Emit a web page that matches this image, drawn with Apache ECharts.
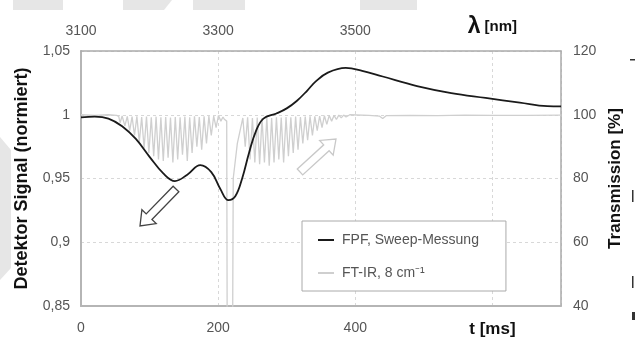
<!DOCTYPE html>
<html>
<head>
<meta charset="utf-8">
<script src="https://cdn.jsdelivr.net/npm/echarts@6/dist/echarts.min.js"></script>
<style>
html,body{margin:0;padding:0;background:#fff;}
#c{width:635px;height:338px;}
</style>
</head>
<body>
<div id="c"></div>
<script>
// ---- data ----
const seriesNames = ['FPF, Sweep-Messung', 'FT-IR, 8 cm\u207B\u00B9'];

const fpfT = [0, 20, 40, 60, 80, 100, 120, 137, 155, 174, 190, 203, 215, 225, 235, 245, 255, 266, 285, 300, 315, 330, 342, 360, 386, 410, 440, 490, 540, 590, 640, 680, 700];
const fpfV = [0.998, 0.9985, 0.997, 0.991, 0.981, 0.967, 0.954, 0.948, 0.953, 0.9605, 0.955, 0.942, 0.933, 0.936, 0.950, 0.970, 0.987, 0.997, 1.001, 1.005, 1.011, 1.019, 1.026, 1.033, 1.0367, 1.0345, 1.030, 1.0225, 1.017, 1.0132, 1.0095, 1.0067, 1.0065];

const ftirT = [0, 20, 40, 52,
  55, 57, 60, 64, 67.5, 71, 74.5, 78, 81.5, 85, 88.5, 92, 95.5, 99, 102.5, 106, 109.5, 113, 116.5, 120, 123.5, 127, 130.5, 134, 137.5, 141, 144.5, 148, 151.5, 155, 158.5, 162, 165.5, 169, 172.5, 176, 179.5, 183, 186.5, 190, 193.5, 197, 200.5, 204, 207, 209, 211,
  212.5, 213.5, 220.5, 222, 228, 236,
  239.5, 243, 246.5, 250, 253.5, 257, 260.5, 264, 267.5, 271, 274.5, 278, 281.5, 285, 288.5, 292, 295.5, 299, 302.5, 306, 309.5, 313, 316.5, 320, 323.5, 327, 330.5, 334, 337.5, 341, 344.5, 348, 351.5, 355, 358.5, 362, 365.5, 369, 372.5, 376, 379.5, 383, 386.5, 392,
  420, 435, 440, 445, 480, 520, 560, 600, 650, 700];
const ftirV = [100, 99.8, 100, 99.8,
  99.5, 97.5, 99.6, 96.5, 99.5, 95, 99.4, 93.5, 99.5, 91.5, 99.3, 89.5, 99.4, 88, 99.2, 87, 99.4, 86, 99.2, 85.5, 99.3, 86.5, 99.1, 85, 99.3, 86, 99.2, 87.5, 99.4, 85.5, 99.2, 88, 99.5, 90, 99.3, 89, 99.5, 91, 99.6, 93.5, 99.6, 96, 99.8, 98, 99.3, 98.6, 99.2,
  98, 0, 0, 80, 91, 99,
  90, 99.2, 86, 99, 85, 99.1, 84.5, 99, 85, 99.2, 84, 99, 85, 99.2, 86, 99.1, 85, 99.3, 87, 99.2, 88, 99.4, 89, 99.3, 91, 99.4, 92, 99.5, 93.5, 99.5, 95, 99.6, 96, 99.7, 97, 99.8, 98, 99.8, 98.5, 99.9, 99, 99.9, 99.3, 100,
  99.8, 99.6, 98.8, 99.7, 99.8, 99.7, 99.9, 99.8, 99.8, 99.9];

const timeTicks = {min: 0, max: 700, interval: 200};
const waveTicks = {min: 3100, max: 3800, interval: 200};
const signalTicks = {min: 0.85, max: 1.05, interval: 0.05};
const transTicks = {min: 40, max: 120, interval: 20};

// ---- chart ----
const FONT = '"Liberation Sans", Arial, sans-serif';
const zip = (a, b) => a.map((v, i) => [v, b[i]]);

function arrowPoints(x1, y1, x2, y2, sw, hw, hl) {
  const dx = x2 - x1, dy = y2 - y1, L = Math.hypot(dx, dy);
  const ux = dx / L, uy = dy / L, px = -uy, py = ux;
  const loc = [[0, -sw], [L - hl, -sw], [L - hl, -hw], [L, 0], [L - hl, hw], [L - hl, sw], [0, sw]];
  return loc.map(([a, b]) => [x1 + ux * a + px * b, y1 + uy * a + py * b]);
}

const chart = echarts.init(document.getElementById('c'), null, {renderer: 'canvas'});
const labelStyle = {fontFamily: FONT, fontSize: 14, color: '#555'};

chart.setOption({
  animation: false,
  backgroundColor: '#fff',
  textStyle: {fontFamily: FONT},
  grid: {left: 81, right: 74, top: 51, bottom: 30, show: false},
  legend: {
    orient: 'vertical',
    left: 302, top: 221,
    padding: [12, 27, 11, 15],
    itemWidth: 16, itemHeight: 14, itemGap: 19,
    backgroundColor: '#fff',
    borderColor: '#aaa', borderWidth: 1,
    itemStyle: {opacity: 0},
    textStyle: {fontFamily: FONT, fontSize: 14, color: '#555', padding: [0, 0, 0, 3]},
    data: [seriesNames[0], seriesNames[1]]
  },
  xAxis: [
    {
      type: 'value', position: 'bottom',
      min: timeTicks.min, max: timeTicks.max, interval: timeTicks.interval,
      axisLine: {show: true, lineStyle: {color: '#b5b5b5', width: 2}},
      axisTick: {show: false},
      axisLabel: Object.assign({}, labelStyle, {
        margin: 15,
        formatter: v => v === 600 ? '{b|t [ms]}' : (v === 700 ? '' : String(v)),
        rich: {b: {fontFamily: FONT, fontSize: 17, fontWeight: 'bold', color: '#111'}}
      }),
      splitLine: {show: true, lineStyle: {color: '#d8d8d8', type: [3, 3], width: 1}}
    },
    {
      type: 'value', position: 'top',
      min: waveTicks.min, max: waveTicks.max, interval: waveTicks.interval,
      axisLine: {show: true, lineStyle: {color: '#aaa', width: 1.5}},
      axisTick: {show: false},
      axisLabel: Object.assign({}, labelStyle, {
        margin: 13,
        formatter: v => v === 3700 ? '{l|\u03BB} {u|[nm]}' : (v === 3800 ? '' : String(v)),
        rich: {
          l: {fontFamily: FONT, fontSize: 23, fontWeight: 'bold', color: '#111'},
          u: {fontFamily: FONT, fontSize: 15, fontWeight: 'bold', color: '#111'}
        }
      }),
      splitLine: {show: false}
    }
  ],
  yAxis: [
    {
      type: 'value', position: 'left',
      min: signalTicks.min, max: signalTicks.max, interval: signalTicks.interval,
      axisLine: {show: true, lineStyle: {color: '#b5b5b5', width: 2}},
      axisTick: {show: false},
      axisLabel: Object.assign({}, labelStyle, {
        margin: 11,
        formatter: v => String(Math.round(v * 100) / 100).replace('.', ',')
      }),
      splitLine: {show: true, lineStyle: {color: '#d8d8d8', type: [3, 3], width: 1}},
      name: 'Detektor Signal (normiert)',
      nameLocation: 'middle', nameGap: 50,
      nameTextStyle: {fontFamily: FONT, fontSize: 18, fontWeight: 'bold', color: '#111'}
    },
    {
      type: 'value', position: 'right',
      min: transTicks.min, max: transTicks.max, interval: transTicks.interval,
      axisLine: {show: true, lineStyle: {color: '#aaa', width: 1.5}},
      axisTick: {show: false},
      axisLabel: Object.assign({}, labelStyle, {margin: 12}),
      splitLine: {show: false},
      name: 'Transmission [%]',
      nameLocation: 'middle', nameGap: 46,
      nameTextStyle: {fontFamily: FONT, fontSize: 17, fontWeight: 'bold', color: '#111'}
    }
  ],
  series: [
    {
      name: seriesNames[1], type: 'line', xAxisIndex: 0, yAxisIndex: 1,
      data: zip(ftirT, ftirV), symbol: 'none', smooth: false,
      lineStyle: {color: '#cfcfcf', width: 1.3}, itemStyle: {color: '#cfcfcf'},
      clip: true, z: 2
    },
    {
      name: seriesNames[0], type: 'line', xAxisIndex: 0, yAxisIndex: 0,
      data: zip(fpfT, fpfV), symbol: 'none', smooth: 0.4,
      lineStyle: {color: '#1a1a1a', width: 1.8}, itemStyle: {color: '#1a1a1a'},
      z: 3
    }
  ],
  graphic: [
    {type: 'rect', shape: {x: 13, y: 0, width: 50, height: 10}, style: {fill: '#e6e6e6'}, silent: true},
    {type: 'polygon', shape: {points: [[123, 0], [172, 0], [164, 10], [123, 10]]}, style: {fill: '#e6e6e6'}, silent: true},
    {type: 'rect', shape: {x: 193, y: 0, width: 52, height: 10}, style: {fill: '#e6e6e6'}, silent: true},
    {type: 'rect', shape: {x: 360, y: 0, width: 57, height: 10}, style: {fill: '#e6e6e6'}, silent: true},
    {type: 'polygon', shape: {points: [[0, 137], [11, 150], [11, 268], [0, 280]]}, style: {fill: '#e6e6e6'}, silent: true},
    {type: 'rect', shape: {x: 630, y: 59, width: 5, height: 1.5}, style: {fill: '#333'}, silent: true},
    {type: 'rect', shape: {x: 632, y: 190, width: 1.5, height: 12}, style: {fill: '#333'}, silent: true},
    {type: 'rect', shape: {x: 632, y: 276, width: 1.5, height: 12}, style: {fill: '#333'}, silent: true},
    {type: 'rect', shape: {x: 632, y: 312, width: 3, height: 8}, style: {fill: '#333'}, silent: true},
    {type: 'polygon', z: 100, shape: {points: arrowPoints(176, 189, 140, 226, 4, 10, 13)}, style: {fill: '#fff', stroke: '#444', lineWidth: 1.3}, silent: true},
    {type: 'polygon', z: 100, shape: {points: arrowPoints(300, 172, 336, 139, 4, 10, 13)}, style: {fill: '#fff', stroke: '#c8c8c8', lineWidth: 1.3}, silent: true}
  ]
});
</script>
</body>
</html>
